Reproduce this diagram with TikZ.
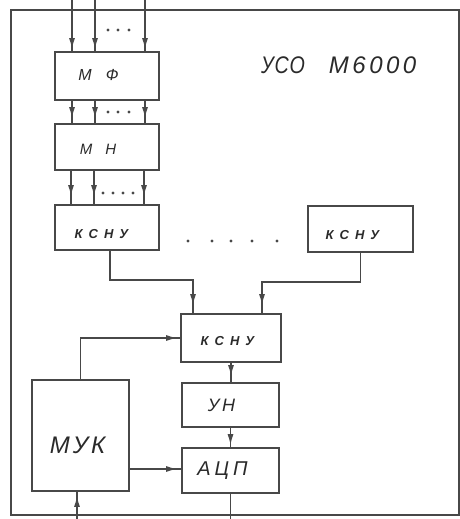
\documentclass[tikz,border=0pt]{standalone}
\usepackage{fontspec}
\setmainfont{Liberation Sans}
\usetikzlibrary{arrows.meta}
\definecolor{linec}{HTML}{484848}
\definecolor{textc}{HTML}{2A2A2A}
\begin{document}
\begin{tikzpicture}[x=1pt,y=-1pt,
  >={Latex[length=11pt,width=6pt]},
  ln/.style={draw=linec,line width=1.6pt},
  box/.style={draw=linec,line width=1.6pt,rectangle,inner sep=0pt},
  lab/.style={text=textc,font=\itshape,inner sep=0pt},
  arr/.style={postaction={draw=linec,line width=1.6pt,->,shorten >=#1}},
  dot/.style={fill=linec}]
\useasboundingbox (0,0) rectangle (460,519);
% frame
\draw[ln] (11,10) rectangle (459,515);
% boxes
\node[box,minimum width=104,minimum height=48,
  label={[lab,xshift=-8.5pt,yshift=1pt]center:{\fontsize{16}{18}\selectfont М\hspace{14pt}Ф}}] (mf) at (107,76) {};
\node[box,minimum width=104,minimum height=46,
  label={[lab,xshift=-9pt,yshift=-2pt]center:{\fontsize{15}{18}\selectfont М\hspace{13pt}Н}}] (mn) at (107,147) {};
\node[box,minimum width=104,minimum height=45,
  label={[lab,xshift=-5.5pt,yshift=-7pt]center:{\fontsize{13}{16}\selectfont\bfseries К\hspace{6pt}С\hspace{6pt}Н\hspace{6pt}У}}] (k1) at (107,227.5) {};
\node[box,minimum width=105,minimum height=46,
  label={[lab,xshift=-8pt,yshift=-6.5pt]center:{\fontsize{13}{16}\selectfont\bfseries К\hspace{6pt}С\hspace{6pt}Н\hspace{6pt}У}}] (k2) at (360.5,229) {};
\node[box,minimum width=100,minimum height=48,
  label={[lab,xshift=-3.5pt,yshift=-3pt]center:{\fontsize{13}{16}\selectfont\bfseries К\hspace{6pt}С\hspace{6pt}Н\hspace{6pt}У}}] (k3) at (231,338) {};
\node[box,minimum width=97,minimum height=44,
  label={[lab,xshift=-9pt]center:{\fontsize{18}{20}\selectfont У\hspace{3pt}Н}}] (un) at (230.5,405) {};
\node[box,minimum width=97,minimum height=45,
  label={[lab,xshift=-8pt]center:{\fontsize{20}{22}\selectfont А\hspace{4pt}Ц\hspace{4pt}П}}] (acp) at (230.5,470.5) {};
\node[box,minimum width=97,minimum height=111,
  label={[lab,xshift=-3pt,yshift=-10pt]center:{\fontsize{24}{26}\selectfont М\hspace{3pt}У\hspace{3pt}К}}] (muk) at (80.5,435.5) {};
% title
\node[lab,font=\itshape\fontsize{24}{26}\selectfont,anchor=base west] (title) at (261,74)
  {\scalebox{0.82}[1]{У\hspace{1pt}С\hspace{1pt}О}\hspace{24pt}М\hspace{3.5pt}6\hspace{3.5pt}0\hspace{3.5pt}0\hspace{3.5pt}0};
% inputs
\coordinate (i1) at (72,0);
\coordinate (i2) at (95,0);
\coordinate (i3) at (145,0);
\draw[ln,arr=2pt] (i1) -- (i1 |- mf.north);
\draw[ln,arr=2pt] (i2) -- (i2 |- mf.north);
\draw[ln,arr=2pt] (i3) -- (i3 |- mf.north);
% MF -> MN
\draw[ln,arr=5pt] ([xshift=-35pt]mf.south) -- ([xshift=-35pt]mn.north);
\draw[ln,arr=5pt] ([xshift=-12pt]mf.south) -- ([xshift=-12pt]mn.north);
\draw[ln,arr=5pt] ([xshift=38pt]mf.south) -- ([xshift=38pt]mn.north);
% MN -> KSNU1
\draw[ln,arr=8pt] ([xshift=-36pt]mn.south) -- ([xshift=-36pt]k1.north);
\draw[ln,arr=8pt] ([xshift=-13pt]mn.south) -- ([xshift=-13pt]k1.north);
\draw[ln,arr=8pt] ([xshift=37pt]mn.south) -- ([xshift=37pt]k1.north);
% KSNU1, KSNU2 -> KSNU3
\draw[ln,arr=8pt] ([xshift=3pt]k1.south) |- (193,280) -- ([xshift=-38pt]k3.north);
\draw[ln,arr=8pt] (k2.south) |- (262,282) -- ([xshift=31pt]k3.north);
% MUK -> KSNU3
\draw[ln,arr=3pt] (muk.north) |- (k3.west);
% KSNU3 -> UN -> ACP
\draw[ln,arr=6pt] (k3.south) -- (k3.south |- un.north);
\draw[ln,arr=2pt] (un.south) -- (un.south |- acp.north);
% MUK -> ACP
\draw[ln,arr=4pt] (muk.east |- 0,469) -- (acp.west |- 0,469);
% outputs
\coordinate (o1) at (77,519);
\coordinate (o2) at (230.5,519);
\draw[ln,arr=4pt] (o1) -- (o1 |- muk.south);
\draw[ln] (acp.south) -- (o2);
% dots
\foreach \x in {108,118,129} \fill[dot] (\x,30) circle (1.6pt);
\foreach \x in {108,118,129} \fill[dot] (\x,112) circle (1.6pt);
\foreach \x in {103,113,123,133} \fill[dot] (\x,193) circle (1.6pt);
\foreach \x in {188,212,231,252,277} \fill[dot] (\x,241) circle (1.6pt);
\end{tikzpicture}
\end{document}
